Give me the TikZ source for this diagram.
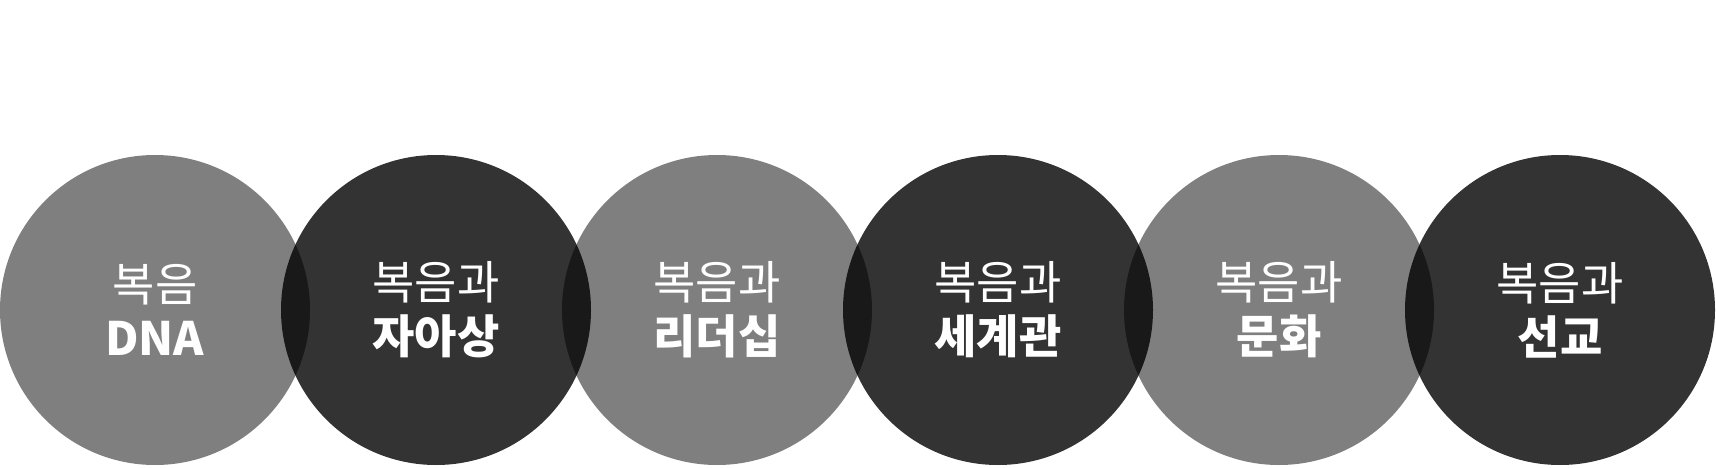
\documentclass[tikz,border=0pt]{standalone}
\usepackage{fontspec}
\setmainfont{Noto Sans CJK KR}
\usepackage{tikz}
\tikzstyle{light} = [circle, minimum size=310pt, inner sep=0pt, fill=black, fill opacity=0.5, text=white, text opacity=1, align=center, font=\fontsize{46}{54}\selectfont]
\tikzstyle{dark} = [circle, minimum size=310pt, inner sep=0pt, fill=black, fill opacity=0.8, text=white, text opacity=1, align=center, font=\fontsize{46}{54}\selectfont]
\begin{document}
\begin{tikzpicture}[x=1pt, y=1pt, node distance=281pt]
	\useasboundingbox (0,0) rectangle (1716,467);
	\node (dna) [light] at (155,157) {복음\\\textbf{DNA}};
	\node (self) [dark, right of=dna] {복음과\\\textbf{자아상}};
	\node (leader) [light, right of=self] {복음과\\\textbf{리더십}};
	\node (world) [dark, right of=leader] {복음과\\\textbf{세계관}};
	\node (culture) [light, right of=world] {복음과\\\textbf{문화}};
	\node (mission) [dark, right of=culture] {복음과\\\textbf{선교}};
\end{tikzpicture}
\end{document}
